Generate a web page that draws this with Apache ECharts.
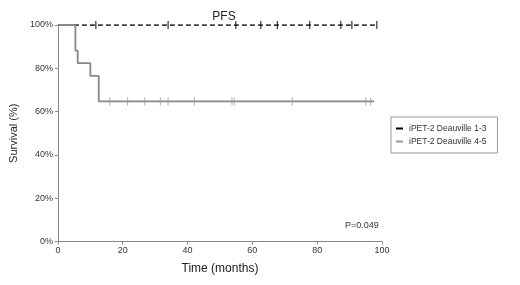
<!DOCTYPE html>
<html><head><meta charset="utf-8">
<script src="https://cdn.jsdelivr.net/npm/echarts@6/dist/echarts.min.js"></script>
<style>html,body{margin:0;padding:0;background:#fff}#c{width:520px;height:285px}</style>
</head><body><div id="c"></div>
<script>
// Kaplan-Meier step points (time in months, survival %)
const grpLowTimes = [0, 98.4];
const grpLowSurv = [100, 100];
const grpLowCensorTimes = [11.7, 34.0, 54.9, 62.6, 67.7, 77.7, 87.3, 90.7, 98.4];
const grpHighTimes = [0, 5.4, 6.1, 10.0, 12.6, 97.6];
const grpHighSurv = [100, 88.2, 82.4, 76.5, 64.7, 64.7];
const grpHighCensorTimes = [16.0, 21.5, 26.8, 31.6, 34.0, 42.1, 53.7, 54.4, 72.3, 95.0, 96.5];
const grpHighCensorSurv = 64.7;
const seriesNames = ['iPET-2 Deauville 1-3', 'iPET-2 Deauville 4-5'];
const xTicks = [0, 20, 40, 60, 80, 100];
const yTicks = [0, 20, 40, 60, 80, 100];

const FONT = 'Liberation Sans, Arial, sans-serif';
const chart = echarts.init(document.getElementById('c'), null, {renderer: 'canvas'});
const lowLine = grpLowTimes.map((t, i) => [t, grpLowSurv[i]]);
const highLine = grpHighTimes.map((t, i) => [t, grpHighSurv[i]]);
const lowCens = grpLowCensorTimes.map(t => [t, 100]);
const highCens = grpHighCensorTimes.map(t => [t, grpHighCensorSurv]);

chart.setOption({
  animation: false,
  backgroundColor: '#fff',
  title: {text: 'PFS', left: 219, top: 6, textAlign: 'center',
    textStyle: {fontFamily: FONT, fontSize: 12, fontWeight: 'normal', color: '#222'}},
  grid: {left: 56, right: 138, top: 25, bottom: 43.5},
  xAxis: {type: 'value', min: xTicks[0], max: xTicks[xTicks.length - 1], interval: 20,
    name: 'Time (months)', nameLocation: 'middle', nameGap: 21,
    nameTextStyle: {fontFamily: FONT, fontSize: 12, color: '#222'},
    axisLine: {lineStyle: {color: '#888', width: 1}},
    axisTick: {show: true, length: 3, lineStyle: {color: '#888'}},
    axisLabel: {fontFamily: FONT, fontSize: 9, color: '#333', margin: 5},
    splitLine: {show: false}},
  yAxis: {type: 'value', min: yTicks[0], max: yTicks[yTicks.length - 1], interval: 20,
    name: 'Survival (%)', nameLocation: 'middle', nameGap: 35,
    nameTextStyle: {fontFamily: FONT, fontSize: 11, color: '#222'},
    axisLine: {show: true, lineStyle: {color: '#888', width: 1}},
    axisTick: {show: true, length: 3, lineStyle: {color: '#888'}},
    axisLabel: {fontFamily: FONT, fontSize: 9, color: '#333', margin: 5, formatter: '{value}%'},
    splitLine: {show: false}},
  legend: {
    orient: 'vertical', left: 391, top: 117,
    padding: [7, 11, 7, 5], itemGap: 4, itemWidth: 7, itemHeight: 2,
    borderColor: '#999', borderWidth: 1, backgroundColor: '#fff',
    textStyle: {fontFamily: FONT, fontSize: 8.5, color: '#333', padding: [0, 0, 0, 1]},
    data: [
      {name: seriesNames[0], icon: 'rect', itemStyle: {color: '#000'}},
      {name: seriesNames[1], icon: 'rect', itemStyle: {color: '#999'}}
    ]
  },
  graphic: [{type: 'text', left: 345, top: 221,
    style: {text: 'P=0.049', fontFamily: FONT, fontSize: 9, fill: '#333'}}],
  series: [
    {name: seriesNames[0], type: 'line', step: 'end', data: lowLine, symbol: 'none',
      lineStyle: {color: '#000', width: 1.6, type: [5, 3]}, itemStyle: {color: '#000'}, z: 2},
    {name: seriesNames[0] + ' c', type: 'scatter', data: lowCens, symbol: 'rect', symbolSize: [1.2, 8],
      itemStyle: {color: '#000'}, z: 3},
    {name: seriesNames[1], type: 'line', step: 'end', data: highLine, symbol: 'none',
      lineStyle: {color: '#888', width: 1.8}, itemStyle: {color: '#888'}, z: 4},
    {name: seriesNames[1] + ' c', type: 'scatter', data: highCens, symbol: 'rect', symbolSize: [1, 8],
      itemStyle: {color: '#999'}, z: 4}
  ]
});
</script></body></html>
